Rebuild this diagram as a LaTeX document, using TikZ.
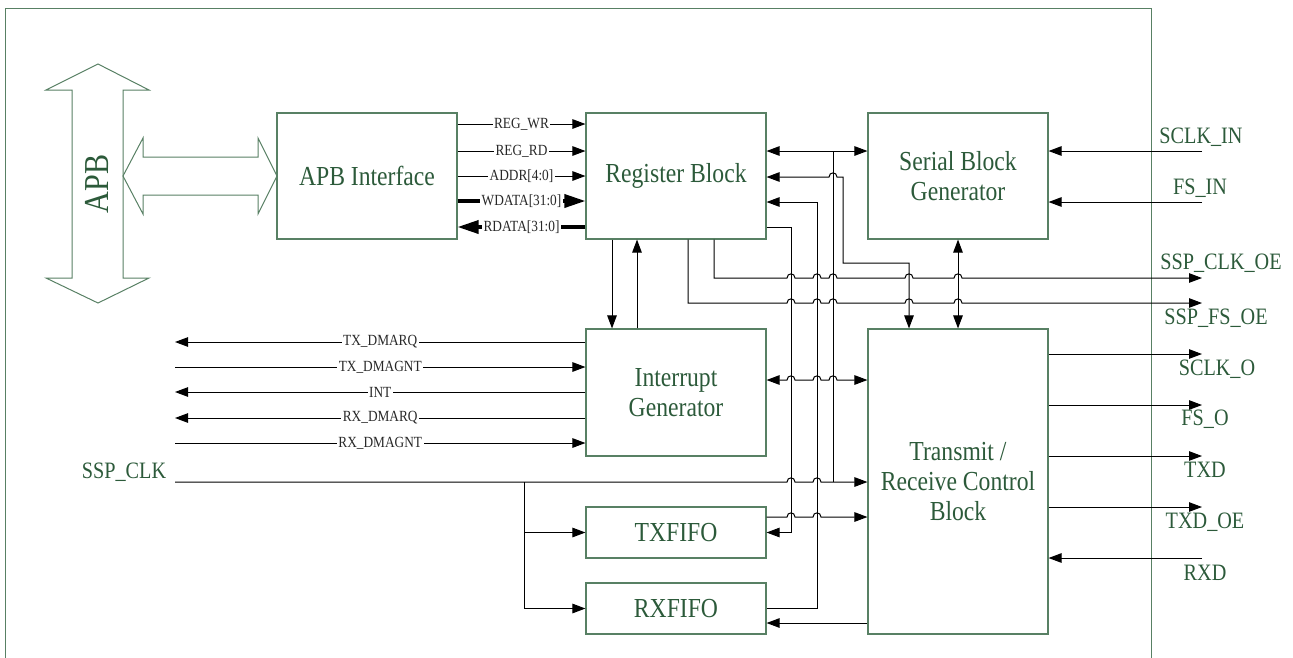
\documentclass[tikz,border=0pt]{standalone}
\usepackage{fontspec}
\setmainfont[FakeStretch=0.86]{Liberation Serif}
\usetikzlibrary{arrows.meta}
\definecolor{bx}{RGB}{88,128,100}
\definecolor{tx}{RGB}{44,90,58}
\definecolor{sg}{RGB}{40,40,40}
\newcommand{\hop}[2]{-- ({#1-4},#2) .. controls ({#1-4},{#2-5.5}) and ({#1+4},{#2-5.5}) .. ({#1+4},#2)}
\begin{document}
\begin{tikzpicture}[x=1pt,y=-1pt,
  box/.style={draw=bx,line width=1.1pt,align=center,text=tx,inner sep=0pt,
    minimum width=180pt,font=\fontsize{27.5}{30}\selectfont},
  wire/.style={line width=1pt,black},
  sig/.style={wire,-{Triangle[length=13pt,width=9.5pt]}},
  sigb/.style={wire,{Triangle[length=13pt,width=9.5pt]}-{Triangle[length=13pt,width=9.5pt]}},
  bus/.style={line width=3.5pt,-{Triangle[length=21pt,width=13pt]}},
  lbl/.style={fill=white,inner sep=1.5pt,text=sg,font=\fontsize{15.5}{16}\selectfont},
  pin/.style={text=tx,font=\fontsize{23.5}{24}\selectfont,inner sep=0pt},
  hollow/.style={draw=bx,line width=1pt}
]
\useasboundingbox (0,0) rectangle (1293,657);
% outer frame
\draw[bx,line width=1pt] (5,660) -- (5,8) -- (1151,8) -- (1151,660);

% APB bus arrows
\draw[hollow] (98,64) -- (149,90) -- (123,90) -- (123,278) -- (149,278) -- (98,303)
  -- (46,278) -- (72,278) -- (72,90) -- (46,90) -- cycle;
\node[rotate=90,text=tx,font=\fontsize{35}{35}\selectfont,inner sep=0pt] (apbt) at (97,184) {APB};
\draw[hollow] (123,176) -- (143,138) -- (143,157) -- (258,157) -- (258,138) -- (277,176)
  -- (258,214) -- (258,195) -- (143,195) -- (143,214) -- cycle;

% boxes
\node[box,minimum height=126pt] (apbif) at (367,176) {APB Interface};
\node[box,minimum height=126pt] (reg) at (676,176) {Register Block};
\node[box,minimum height=126pt] (ser) at (958,176) {Serial Block\\Generator};
\node[box,minimum height=127pt] (intg) at (676,392.5) {Interrupt\\Generator};
\node[box,minimum height=305pt] (trc) at (958,481.5) {Transmit /\\Receive Control\\Block};
\node[box,minimum height=51pt] (txf) at (676,532.5) {TXFIFO};
\node[box,minimum height=51pt] (rxf) at (676,608.5) {RXFIFO};

% APB interface -> register block
\draw[sig] (apbif.east |- 0,124) -- node[lbl] (lwr) {REG\_WR} (reg.west |- 0,124);
\draw[sig] (apbif.east |- 0,151) -- node[lbl] (lrd) {REG\_RD} (reg.west |- 0,151);
\draw[sig] (apbif.east |- 0,176) -- node[lbl] (lad) {ADDR[4:0]} (reg.west |- 0,176);
\draw[bus] (apbif.east |- 0,201) -- node[lbl] (lwd) {WDATA[31:0]} (reg.west |- 0,201);
\draw[bus] (reg.west |- 0,227) -- node[lbl] (lrdd) {RDATA[31:0]} (apbif.east |- 0,227);

% register <-> interrupt
\draw[sig] (612,0 |- reg.south) -- (612,0 |- intg.north);
\draw[sig] (637,0 |- intg.north) -- (637,0 |- reg.south);

% register <-> serial
\draw[sigb] (reg.east |- 0,151) -- (ser.west |- 0,151);
% register <-> transmit/receive (via x=843/909)
\draw[sigb] (reg.east |- 0,177) \hop{833}{177} -- (843,177) -- (843,263) -- (909,263) -- (909,0 |- trc.north);
% serial <-> transmit/receive
\draw[sigb] (ser.south) -- (trc.north);
% RXFIFO -> register
\draw[sig] (rxf.east) -- (817,608.5) -- (817,202) -- (reg.east |- 0,202);
% register -> TXFIFO
\draw[sig] (reg.east |- 0,227) -- (791,227) -- (791,532.5) -- (txf.east);
% TXFIFO -> TRC
\draw[sig] (txf.east |- 0,517) \hop{791}{517} \hop{817}{517} -- (trc.west |- 0,517);
% TRC -> RXFIFO
\draw[sig] (trc.west |- 0,623) -- (rxf.east |- 0,623);
% interrupt <-> TRC
\draw[sigb] (intg.east |- 0,380) \hop{791}{380} \hop{817}{380} \hop{833}{380} -- (trc.west |- 0,380);

% SSP_CLK
\coordinate (sspclk) at (175,482);
\node[pin] (lsspclk) at (124,472) {SSP\_CLK};
\draw[sig] (sspclk) \hop{791}{482} \hop{817}{482} -- (trc.west |- 0,482);
\draw[wire] (833,151) -- (833,482);
\coordinate (br) at (524,482);
\draw[sig] (br) -- (524,608.5) -- (rxf.west);
\draw[sig] (524,532.5) -- (txf.west);

% register -> SSP_CLK_OE / SSP_FS_OE
\coordinate (oclkoe) at (1202,278);
\coordinate (ofsoe) at (1202,303);
\draw[sig] (714,0 |- reg.south) -- (714,278) \hop{791}{278} \hop{817}{278} \hop{833}{278} \hop{909}{278} \hop{958}{278} -- (oclkoe);
\draw[sig] (688,0 |- reg.south) -- (688,303) \hop{791}{303} \hop{817}{303} \hop{833}{303} \hop{909}{303} \hop{958}{303} -- (ofsoe);
\node[pin] (lclkoe) at (1221,263) {SSP\_CLK\_OE};
\node[pin] (lfsoe) at (1216,318) {SSP\_FS\_OE};

% serial inputs
\coordinate (isclk) at (1202,151);
\coordinate (ifs) at (1202,202);
\draw[sig] (isclk) -- (ser.east |- isclk);
\draw[sig] (ifs) -- (ser.east |- ifs);
\node[pin] (lsclkin) at (1201,137) {SCLK\_IN};
\node[pin] (lfsin) at (1200,188) {FS\_IN};

% TRC outputs
\coordinate (osclk) at (1202,354);
\coordinate (ofs) at (1202,405);
\coordinate (otxd) at (1202,456);
\coordinate (otxdoe) at (1202,507);
\coordinate (irxd) at (1202,558);
\draw[sig] (trc.east |- osclk) -- (osclk);
\draw[sig] (trc.east |- ofs) -- (ofs);
\draw[sig] (trc.east |- otxd) -- (otxd);
\draw[sig] (trc.east |- otxdoe) -- (otxdoe);
\draw[sig] (irxd) -- (trc.east |- irxd);
\node[pin] (lsclko) at (1217,369) {SCLK\_O};
\node[pin] (lfso) at (1205,419) {FS\_O};
\node[pin] (ltxd) at (1205,470) {TXD};
\node[pin] (ltxdoe) at (1205,522) {TXD\_OE};
\node[pin] (lrxd) at (1205,573) {RXD};

% DMA / interrupt signals
\coordinate (d1) at (175,342);
\coordinate (d2) at (175,367);
\coordinate (d3) at (175,392);
\coordinate (d4) at (175,418);
\coordinate (d5) at (175,443);
\draw[sig] (intg.west |- d1) -- node[lbl] (ltxrq) {TX\_DMARQ} (d1);
\draw[sig] (d2) -- node[lbl] (ltxgn) {TX\_DMAGNT} (intg.west |- d2);
\draw[sig] (intg.west |- d3) -- node[lbl] (lint) {INT} (d3);
\draw[sig] (intg.west |- d4) -- node[lbl] (lrxrq) {RX\_DMARQ} (d4);
\draw[sig] (d5) -- node[lbl] (lrxgn) {RX\_DMAGNT} (intg.west |- d5);
\end{tikzpicture}
\end{document}
